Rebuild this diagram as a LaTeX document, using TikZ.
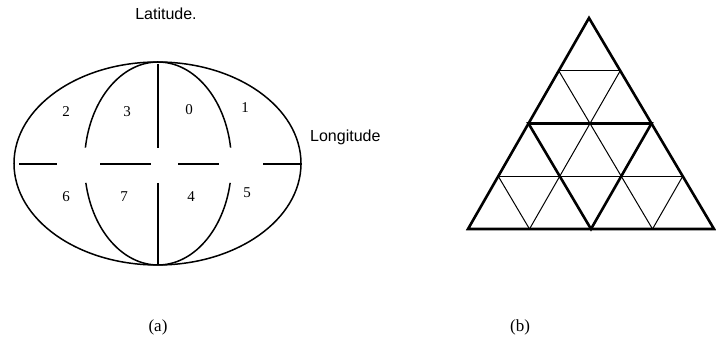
\documentclass[tikz,border=0pt]{standalone}
\usepackage{fontspec}
\setmainfont{Liberation Serif}
\newfontfamily\labelfont{Liberation Sans}
\usetikzlibrary{calc}
\begin{document}
\begin{tikzpicture}[
  x=1pt,y=1pt,
  line/.style={line width=1.5pt},
  thin grid/.style={line width=1pt},
  thick grid/.style={line width=2.6pt,line join=miter},
  num/.style={font=\fontsize{15}{17}\selectfont},
  axis label/.style={font=\labelfont\fontsize{16}{18}\selectfont},
  caption/.style={font=\fontsize{17}{19}\selectfont}
]
\useasboundingbox (0,0) rectangle (716,348);

% (a) sphere split into 8 parts
\coordinate (c) at (158,184.5);
\draw[line] (157.5,184.5) ellipse [x radius=143.5, y radius=101.5];
\draw[line] ([shift={(c)}]90:73.5 and 101.5) arc[start angle=90, end angle=171, x radius=73.5, y radius=101.5];
\draw[line] ([shift={(c)}]90:73.5 and 101.5) arc[start angle=90, end angle=9, x radius=73.5, y radius=101.5];
\draw[line] ([shift={(c)}]191:73.5 and 101.5) arc[start angle=191, end angle=270, x radius=73.5, y radius=101.5];
\draw[line] ([shift={(c)}]-11:73.5 and 101.5) arc[start angle=-11, end angle=-90, x radius=73.5, y radius=101.5];
\draw[line] (158,284) -- (158,200);
\draw[line] (158,165) -- (158,83);
\foreach \xa/\xb in {19/57, 100/151, 178/219, 263/302}
  \draw[line] (\xa,184) -- (\xb,184);

\node[num] (q2) at (66,236) {2};
\node[num] (q3) at (127,236) {3};
\node[num] (q0) at (189,238) {0};
\node[num] (q1) at (245,240) {1};
\node[num] (q6) at (66,151) {6};
\node[num] (q7) at (124,151) {7};
\node[num] (q4) at (191,151) {4};
\node[num] (q5) at (247,155) {5};

\node[axis label] (lat) at (166,334) {Latitude.};
\node[axis label,anchor=west,inner sep=0pt] (lon) at (310,211) {Longitude};

% (b) triangle split twice
\coordinate (A) at (589,330);
\coordinate (B) at (468,119);
\coordinate (C) at (714,119);
\foreach \k in {1,2,3} {
  \draw[thin grid] ($(B)!\k/4!(A)$) -- ($(C)!\k/4!(A)$);
  \draw[thin grid] ($(B)!\k/4!(C)$) -- ($(B)!\k/4!(A)$);
  \draw[thin grid] ($(C)!\k/4!(B)$) -- ($(C)!\k/4!(A)$);
}
\draw[thick grid] ($(A)!0.5!(B)$) -- ($(B)!0.5!(C)$) -- ($(C)!0.5!(A)$) -- cycle;
\draw[thick grid] (A) -- (B) -- (C) -- cycle;

\node[caption] (capa) at (158,21) {(a)};
\node[caption] (capb) at (520,21) {(b)};
\end{tikzpicture}
\end{document}
